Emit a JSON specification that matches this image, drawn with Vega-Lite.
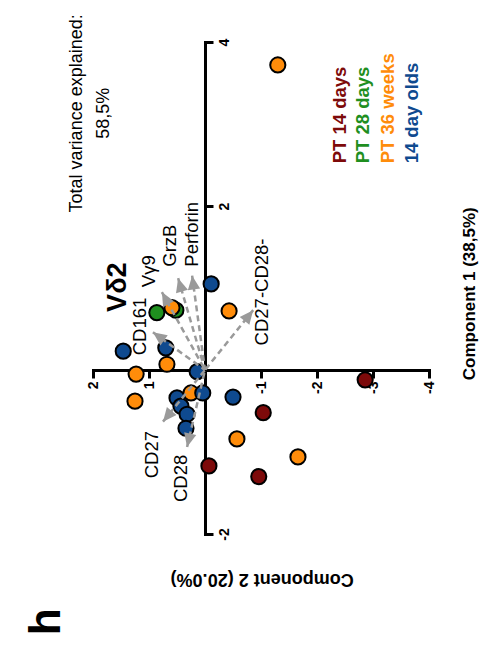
{
  "$schema": "https://vega.github.io/schema/vega-lite/v6.json",
  "width": 336,
  "height": 492,
  "autosize": {"type": "none"},
  "padding": {"left": 93, "top": 42, "right": 56, "bottom": 117},
  "background": "white",
  "config": {
    "view": {"stroke": null},
    "font": "Liberation Sans",
    "axis": {
      "domainColor": "black",
      "domainWidth": 3,
      "domainCap": "square",
      "tickColor": "black",
      "tickWidth": 3,
      "tickSize": 8,
      "labelFont": "Liberation Sans",
      "labelFontSize": 14,
      "labelFontWeight": "bold",
      "labelColor": "black",
      "labelAngle": 270,
      "labelFlush": false,
      "labelOverlap": false,
      "grid": false
    }
  },
  "datasets": {
    "scores": [
      {"group": "PT 14 days", "comp2": -0.07, "comp1": -1.17},
      {"group": "PT 14 days", "comp2": -1.04, "comp1": -0.52},
      {"group": "PT 14 days", "comp2": -0.96, "comp1": -1.3},
      {"group": "PT 14 days", "comp2": -2.86, "comp1": -0.12},
      {"group": "PT 28 days", "comp2": 0.52, "comp1": 0.73},
      {"group": "PT 28 days", "comp2": 0.86, "comp1": 0.7},
      {"group": "PT 36 weeks", "comp2": -1.3, "comp1": 3.72},
      {"group": "PT 36 weeks", "comp2": -0.43, "comp1": 0.72},
      {"group": "PT 36 weeks", "comp2": 0.59, "comp1": 0.76},
      {"group": "PT 36 weeks", "comp2": 0.68, "comp1": 0.07},
      {"group": "PT 36 weeks", "comp2": 1.23, "comp1": -0.05},
      {"group": "PT 36 weeks", "comp2": 1.25, "comp1": -0.38},
      {"group": "PT 36 weeks", "comp2": 0.25, "comp1": -0.28},
      {"group": "PT 36 weeks", "comp2": -0.57, "comp1": -0.84},
      {"group": "PT 36 weeks", "comp2": -1.66, "comp1": -1.06},
      {"group": "14 day olds", "comp2": -0.11, "comp1": 1.05},
      {"group": "14 day olds", "comp2": 1.46, "comp1": 0.23},
      {"group": "14 day olds", "comp2": 0.7, "comp1": 0.27},
      {"group": "14 day olds", "comp2": 0.14, "comp1": -0.02},
      {"group": "14 day olds", "comp2": 0.5, "comp1": -0.34},
      {"group": "14 day olds", "comp2": 0.04, "comp1": -0.28},
      {"group": "14 day olds", "comp2": 0.43, "comp1": -0.44},
      {"group": "14 day olds", "comp2": 0.32, "comp1": -0.54},
      {"group": "14 day olds", "comp2": 0.34, "comp1": -0.71},
      {"group": "14 day olds", "comp2": -0.5, "comp1": -0.33}
    ],
    "loadings": [
      {"marker": "Perforin", "comp2": 0.23, "comp1": 1.15},
      {"marker": "GrzB", "comp2": 0.48, "comp1": 1.12},
      {"marker": "Vγ9", "comp2": 0.77, "comp1": 0.95},
      {"marker": "CD161", "comp2": 0.93, "comp1": 0.46},
      {"marker": "CD27-CD28-", "comp2": -0.86, "comp1": 0.73},
      {"marker": "CD27", "comp2": 0.75, "comp1": -0.63},
      {"marker": "CD28", "comp2": 0.32, "comp1": -0.94}
    ],
    "markerLabels": [
      {"marker": "Perforin", "comp2": 0.23, "comp1": 1.26},
      {"marker": "GrzB", "comp2": 0.63, "comp1": 1.26},
      {"marker": "Vγ9", "comp2": 1.0, "comp1": 1.01},
      {"marker": "CD161", "comp2": 1.16, "comp1": 0.18},
      {"marker": "CD27-CD28-", "comp2": -1.02, "comp1": 0.3},
      {"marker": "CD27", "comp2": 0.95, "comp1": -1.32},
      {"marker": "CD28", "comp2": 0.43, "comp1": -1.61}
    ],
    "groupLabels": [
      {"group": "PT 14 days", "comp2": -2.41, "comp1": 2.52},
      {"group": "PT 28 days", "comp2": -2.82, "comp1": 2.52},
      {"group": "PT 36 weeks", "comp2": -3.27, "comp1": 2.52},
      {"group": "14 day olds", "comp2": -3.7, "comp1": 2.52}
    ],
    "notes": [
      {"role": "title", "text": "Vδ2", "comp2": 1.55, "comp1": 1.01},
      {"role": "variance", "text": "Total variance explained:", "comp2": 2.29, "comp1": 3.13},
      {"role": "variance", "text": "58,5%", "comp2": 1.8, "comp1": 3.13},
      {"role": "axis1", "text": "Component 1 (38,5%)", "comp2": -4.73, "comp1": 0.93},
      {"role": "axis2", "text": "Component 2 (20.0%)", "comp2": -1.02, "comp1": -2.55},
      {"role": "panel", "text": "h", "comp2": 2.82, "comp1": -3.07}
    ]
  },
  "encoding": {
    "x": {
      "field": "comp2",
      "type": "quantitative",
      "scale": {"domain": [-4, 2], "reverse": true, "nice": false, "zero": false},
      "axis": {
        "orient": "bottom",
        "offset": -164,
        "values": [2, 1, -1, -2, -3, -4],
        "labelExpr": "'' + datum.value",
        "labelAlign": "right",
        "labelBaseline": "middle",
        "labelPadding": 3,
        "title": null
      }
    },
    "y": {
      "field": "comp1",
      "type": "quantitative",
      "scale": {"domain": [-2, 4], "nice": false, "zero": false},
      "axis": {
        "orient": "right",
        "offset": -224,
        "values": [4, 2, -2],
        "labelExpr": "'' + datum.value",
        "labelAlign": "center",
        "labelBaseline": "top",
        "labelPadding": 4,
        "title": null
      }
    }
  },
  "layer": [
    {
      "data": {"name": "scores"},
      "mark": {"type": "point", "shape": "circle", "filled": true, "size": 230, "stroke": "black", "strokeWidth": 2, "opacity": 1},
      "encoding": {
        "color": {
          "field": "group",
          "type": "nominal",
          "scale": {
            "domain": ["PT 14 days", "PT 28 days", "PT 36 weeks", "14 day olds"],
            "range": ["#7d0a0a", "#1f8f1f", "#ff8c0a", "#0f4a8f"]
          },
          "legend": null
        }
      }
    },
    {
      "data": {"name": "loadings"},
      "mark": {"type": "rule", "strokeDash": [6, 4], "strokeWidth": 2.5, "color": "#9a9a9a"},
      "encoding": {"x2": {"datum": 0}, "y2": {"datum": 0}}
    },
    {
      "data": {"name": "loadings"},
      "transform": [
        {"calculate": "atan2(-56 * datum.comp2, 82 * datum.comp1) * 180 / PI", "as": "heading"}
      ],
      "mark": {"type": "point", "shape": "M0,0L0.45,1L-0.45,1Z", "filled": true, "size": 760, "color": "#9a9a9a", "opacity": 1, "strokeWidth": 0},
      "encoding": {"angle": {"field": "heading", "type": "quantitative", "scale": null}}
    },
    {
      "data": {"name": "markerLabels"},
      "mark": {"type": "text", "angle": 270, "align": "left", "baseline": "middle", "fontSize": 18.5, "color": "black"},
      "encoding": {"text": {"field": "marker"}}
    },
    {
      "data": {"name": "groupLabels"},
      "mark": {"type": "text", "angle": 270, "align": "left", "baseline": "middle", "fontSize": 18.5, "fontWeight": "bold"},
      "encoding": {
        "text": {"field": "group"},
        "color": {
          "field": "group",
          "type": "nominal",
          "scale": {
            "domain": ["PT 14 days", "PT 28 days", "PT 36 weeks", "14 day olds"],
            "range": ["#7d0a0a", "#1f8f1f", "#ff8c0a", "#0f4a8f"]
          },
          "legend": null
        }
      }
    },
    {
      "data": {"name": "notes"},
      "transform": [{"filter": "datum.role === 'title'"}],
      "mark": {"type": "text", "angle": 270, "align": "center", "baseline": "middle", "fontSize": 27, "fontWeight": "bold", "color": "black"},
      "encoding": {"text": {"field": "text"}}
    },
    {
      "data": {"name": "notes"},
      "transform": [{"filter": "datum.role === 'variance'"}],
      "mark": {"type": "text", "angle": 270, "align": "center", "baseline": "middle", "fontSize": 18, "color": "black"},
      "encoding": {"text": {"field": "text"}}
    },
    {
      "data": {"name": "notes"},
      "transform": [{"filter": "datum.role === 'axis1'"}],
      "mark": {"type": "text", "angle": 270, "align": "center", "baseline": "middle", "fontSize": 17, "fontWeight": "bold", "color": "black"},
      "encoding": {"text": {"field": "text"}}
    },
    {
      "data": {"name": "notes"},
      "transform": [{"filter": "datum.role === 'axis2'"}],
      "mark": {"type": "text", "angle": 180, "align": "center", "baseline": "middle", "fontSize": 18, "fontWeight": "bold", "color": "black"},
      "encoding": {"text": {"field": "text"}}
    },
    {
      "data": {"name": "notes"},
      "transform": [{"filter": "datum.role === 'panel'"}],
      "mark": {"type": "text", "angle": 270, "align": "center", "baseline": "middle", "fontSize": 44, "fontWeight": "bold", "color": "black"},
      "encoding": {"text": {"field": "text"}}
    }
  ]
}
